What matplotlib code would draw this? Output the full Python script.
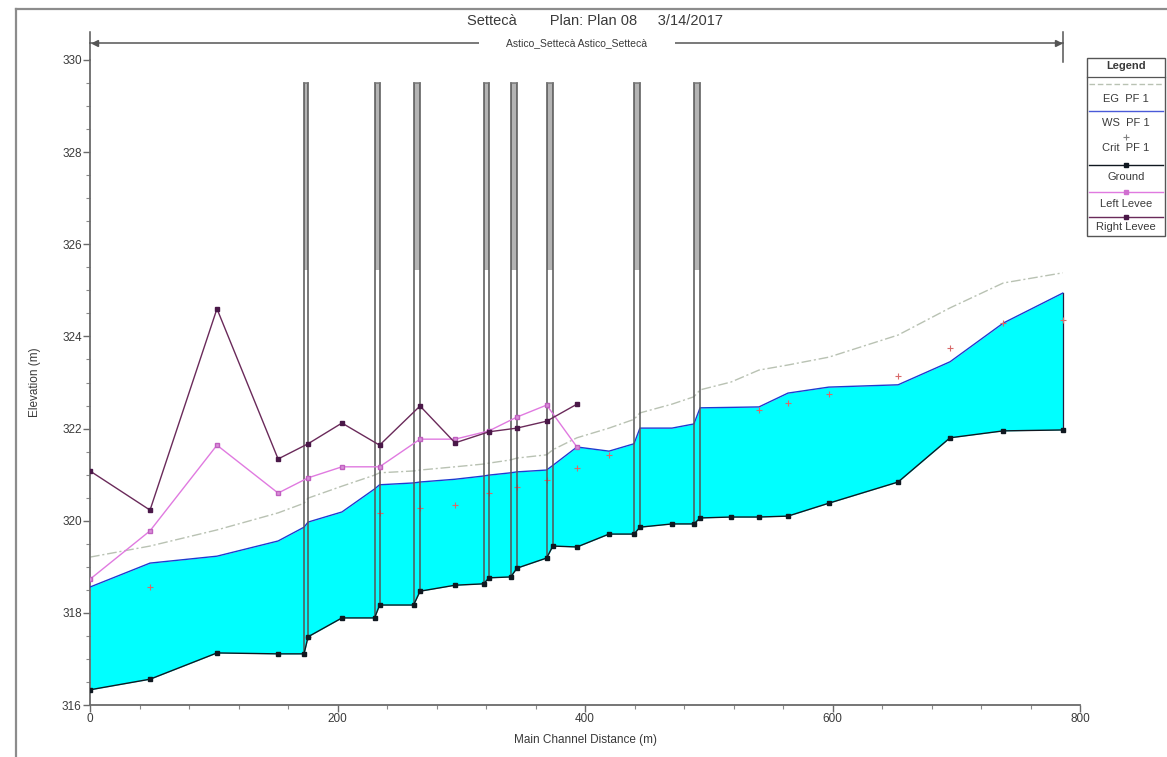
import numpy as np
import matplotlib
matplotlib.use("Agg")
import matplotlib.pyplot as plt
from matplotlib.lines import Line2D
from matplotlib.patches import Rectangle

plt.rcParams['font.family'] = ['Liberation Sans', 'DejaVu Sans']

# cross section stations (m) and profiles
stations = [0, 48.5, 102.6, 152, 173, 176.2, 203.6, 230, 234, 261.5, 266.7, 295, 318,
            322.4, 340, 345, 369, 374, 393.5, 419.4, 439.6, 444.4, 470.3, 488, 493,
            518, 540.6, 564, 597, 653, 695, 738, 786]
ground = [316.33, 316.56, 317.13, 317.11, 317.11, 317.48, 317.89, 317.89, 318.17, 318.17,
          318.47, 318.60, 318.63, 318.76, 318.78, 318.97, 319.19, 319.45, 319.43, 319.71,
          319.71, 319.86, 319.93, 319.93, 320.06, 320.08, 320.08, 320.10, 320.38, 320.84,
          321.80, 321.95, 321.97]
ws = [318.56, 319.08, 319.23, 319.56, 319.86, 319.97, 320.19, 320.69, 320.78, 320.82,
      320.84, 320.90, 320.97, 320.99, 321.04, 321.06, 321.10, 321.20, 321.60, 321.51,
      321.67, 322.01, 322.01, 322.10, 322.45, 322.46, 322.47, 322.77, 322.90, 322.95,
      323.45, 324.29, 324.94]
eg = [319.21, 319.45, 319.80, 320.17, 320.38, 320.49, 320.75, 320.99, 321.04, 321.08,
      321.10, 321.17, 321.23, 321.25, 321.32, 321.36, 321.43, 321.54, 321.80, 322.01,
      322.20, 322.34, 322.53, 322.69, 322.84, 323.01, 323.27, 323.38, 323.55, 324.03,
      324.62, 325.16, 325.38]

crit_sta = [48.5, 176.2, 234, 266.7, 295, 322.4, 345, 369, 393.5, 419.4, 540.6, 564, 597,
            653, 695, 738, 786]
crit = [318.56, 317.48, 320.17, 320.28, 320.34, 320.60, 320.73, 320.88, 321.14, 321.43,
        322.40, 322.55, 322.75, 323.14, 323.75, 324.29, 324.36]

levee_sta = [0, 48.5, 102.6, 152, 176.2, 203.6, 234, 266.7, 295, 322.4, 345, 369, 393.5]
left_levee = [318.73, 319.78, 321.64, 320.60, 320.93, 321.17, 321.17, 321.77, 321.77,
              321.95, 322.25, 322.51, 321.60]
right_levee = [321.08, 320.23, 324.60, 321.34, 321.67, 322.12, 321.64, 322.49, 321.69,
               321.93, 322.01, 322.16, 322.53]

bridges = [(173, 176.2), (230, 234), (261.5, 266.7), (318, 322.4), (340, 345),
           (369, 374), (439.6, 444.4), (488, 493)]
deck_top = 329.5
deck_low = 325.45

W, H = 1167, 757
fig = plt.figure(figsize=(W / 100, H / 100), dpi=100)
ax = fig.add_axes([90 / W, 1 - 705 / H, 990 / W, 645 / H])

txt = '#3a3a3a'
gnd = dict(zip(stations, ground))

# water fill
ax.fill_between(stations, ground, ws, color='#00ffff', lw=0, zorder=1)
ax.plot([stations[-1]] * 2, [ground[-1], ws[-1]], color='#202040', lw=0.9, zorder=3)

# bridges
for a, b in bridges:
    ax.add_patch(Rectangle((a, deck_low), b - a, deck_top - deck_low,
                           facecolor='#b4b4b4', edgecolor='none', zorder=4))
    ax.plot([a, a], [gnd[a], deck_top], color='#555555', lw=1.1, zorder=5)
    ax.plot([b, b], [gnd[b], deck_top], color='#555555', lw=1.1, zorder=5)
    ax.plot([a, b], [deck_top, deck_top], color='#777777', lw=1.1, zorder=5)

ax.plot(stations, eg, color='#b9c2b3', lw=1.0, ls=(0, (7, 2, 1.5, 2)), zorder=2)
ax.plot(stations, ws, color='#1f3bd0', lw=1.0, zorder=3)
ax.plot(crit_sta, crit, ls='none', marker='+', ms=4, mew=0.8, color='#d86a6a', zorder=3)
ax.plot(stations, ground, color='#101820', lw=1.0, marker='s', ms=3.5, zorder=6)
ax.plot(levee_sta, left_levee, color='#e07ae0', lw=1.0, marker='s', ms=3.5,
        mfc='#d890d8', mec='#c060c0', zorder=6)
ax.plot(levee_sta, right_levee, color='#6a2a5a', lw=1.0, marker='s', ms=3.5,
        mfc='#4a1848', mec='#4a1848', zorder=6)

ax.set_xlim(0, 800)
ax.set_ylim(316, 330)
ax.set_xticks(np.arange(0, 801, 200))
ax.set_xticks(np.arange(0, 801, 40), minor=True)
ax.set_yticks(np.arange(316, 331, 2))
ax.set_yticks(np.arange(316, 330.1, 0.5), minor=True)
for s in ['top', 'right']:
    ax.spines[s].set_visible(False)
for s in ['left', 'bottom']:
    ax.spines[s].set_color('#6a6a6a')
    ax.spines[s].set_linewidth(1.3)
ax.tick_params(which='major', length=5, width=1, color='#6a6a6a', labelsize=8.5,
               labelcolor=txt, pad=1)
ax.tick_params(which='minor', length=3, width=0.8, color='#8a8a8a')
ax.set_xlabel('Main Channel Distance (m)', fontsize=8.5, color=txt, labelpad=6)
ax.set_ylabel('Elevation (m)', fontsize=8.5, color=txt, labelpad=15)

# reach annotation above the plot
ya = 330.37
ax.plot([0, 786], [ya, ya], color='#555555', lw=1.1, clip_on=False)
ax.plot([0, 0], [330, 330.61], color='#555555', lw=1.1, clip_on=False)
ax.plot([786, 786], [329.95, 330.61], color='#555555', lw=1.1, clip_on=False)
ax.plot([4], [ya], marker='<', ms=4, color='#555555', clip_on=False)
ax.plot([782], [ya], marker='>', ms=4, color='#555555', clip_on=False)
ax.text(393.5, ya, 'Astico_Settecà Astico_Settecà', ha='center', va='center',
        fontsize=7.5, color=txt, clip_on=False,
        bbox=dict(facecolor='white', edgecolor='none', pad=0, boxstyle='square,pad=2.6'))

def fx(p):
    return p / W

def fy(p):
    return 1 - p / H

fig.text(fx(595), fy(21), 'Settecà        Plan: Plan 08     3/14/2017', ha='center',
         va='center', fontsize=10.5, color=txt)

# outer frame
fig.add_artist(Line2D([fx(16), fx(16)], [fy(9), 0], color='#8c8c8c', lw=1.6))
fig.add_artist(Line2D([fx(16), 1], [fy(9), fy(9)], color='#8c8c8c', lw=1.6))

# legend box
lx0, lx1 = 1087, 1165
fig.add_artist(Rectangle((fx(lx0), fy(236)), fx(lx1 - lx0), (236 - 58) / H,
                         transform=fig.transFigure, facecolor='white',
                         edgecolor='#555555', lw=1.0))
fig.text(fx((lx0 + lx1) / 2), fy(66), 'Legend', ha='center', va='center',
         fontsize=8, color=txt, fontweight='bold')
fig.add_artist(Line2D([fx(lx0), fx(lx1)], [fy(77), fy(77)], color='#555555', lw=0.9))

entries = [
    ('EG  PF 1', 84, 99, dict(color='#b9c2b3', ls=(0, (4, 2))), None),
    ('WS  PF 1', 111, 123, dict(color='#4a5ad8'), None),
    ('Crit  PF 1', 137, 148, None, None),
    ('Ground', 165, 177, dict(color='#101820'), '#101820'),
    ('Left Levee', 192, 204, dict(color='#e07ae0'), '#d070d0'),
    ('Right Levee', 217, 227, dict(color='#6a2a5a'), '#4a1848'),
]
xm = fx((lx0 + lx1) / 2)
for label, yl, yt, style, mcol in entries:
    if style is None:
        fig.add_artist(Line2D([xm], [fy(yl)], ls='none', marker='+', ms=4, mew=0.8,
                              color='#808080'))
    else:
        fig.add_artist(Line2D([fx(lx0 + 2), fx(lx1 - 2)], [fy(yl), fy(yl)], lw=1.0,
                              **style))
    if mcol is not None:
        fig.add_artist(Line2D([xm], [fy(yl)], ls='none', marker='s', ms=3.5, color=mcol))
    fig.text(xm, fy(yt), label, ha='center', va='center', fontsize=8, color=txt)

fig.savefig('out.png', dpi=100, facecolor='white')
